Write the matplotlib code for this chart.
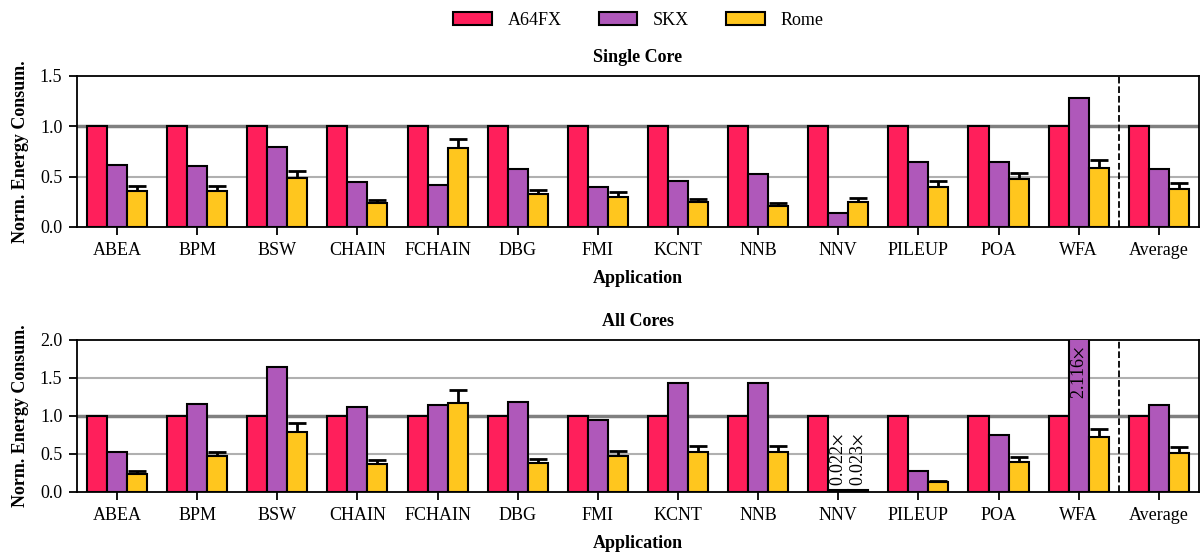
import numpy as np
import matplotlib
matplotlib.use('Agg')
import matplotlib.pyplot as plt

plt.rcParams['font.family'] = ['Liberation Serif', 'DejaVu Serif']
plt.rcParams['mathtext.fontset'] = 'stix'
plt.rcParams['font.size'] = 13
plt.rcParams['xtick.major.size'] = 6
plt.rcParams['ytick.major.size'] = 6
plt.rcParams['xtick.major.width'] = 1.3
plt.rcParams['ytick.major.width'] = 1.3
plt.rcParams['xtick.major.pad'] = 4.5
plt.rcParams['ytick.major.pad'] = 4.5

apps = ['ABEA', 'BPM', 'BSW', 'CHAIN', 'FCHAIN', 'DBG', 'FMI', 'KCNT',
        'NNB', 'NNV', 'PILEUP', 'POA', 'WFA', 'Average']
systems = ['A64FX', 'SKX', 'Rome']
colors = ['#FF1F5B', '#AF58BA', '#FFC61E']

# single core, normalized to A64FX
single_a64fx = [1.0] * 14
single_skx = [0.62, 0.61, 0.79, 0.445, 0.42, 0.58, 0.40, 0.46, 0.53, 0.135,
              0.65, 0.65, 1.28, 0.58]
single_rome = [0.36, 0.36, 0.49, 0.24, 0.78, 0.33, 0.30, 0.245, 0.205, 0.25,
               0.40, 0.475, 0.59, 0.38]
single_rome_err = [0.05, 0.05, 0.07, 0.03, 0.095, 0.04, 0.05, 0.035, 0.035, 0.04,
                   0.06, 0.065, 0.08, 0.06]

# all cores
all_a64fx = [1.0] * 14
all_skx = [0.527, 1.16, 1.64, 1.12, 1.15, 1.185, 0.945, 1.44, 1.44, 0.022,
           0.27, 0.755, 2.116, 1.145]
all_rome = [0.24, 0.47, 0.79, 0.374, 1.17, 0.38, 0.47, 0.53, 0.53, 0.023,
            0.136, 0.40, 0.73, 0.51]
all_rome_err = [0.035, 0.06, 0.115, 0.045, 0.17, 0.05, 0.07, 0.07, 0.07, 0.0,
                0.015, 0.06, 0.10, 0.08]

x = np.arange(len(apps))
w = 0.25

fig = plt.figure(figsize=(12.02, 5.52), dpi=100)
ax1 = fig.add_axes([0.064, 0.5888, 0.9334, 0.2736])
ax2 = fig.add_axes([0.064, 0.1087, 0.9334, 0.2754])


def draw(ax, vals, err, ymax, title):
    for i, v in enumerate(vals):
        ax.bar(x + (i - 1) * w, v, w, color=colors[i], edgecolor='black',
               linewidth=1.5, zorder=3, label=systems[i])
    ax.errorbar(x + w, vals[2], yerr=[np.zeros(len(err)), err], fmt='none',
                ecolor='black', elinewidth=2, capsize=6.8, capthick=2, zorder=2)
    for yv in np.arange(0.5, ymax, 0.5):
        if abs(yv - 1.0) < 1e-6:
            ax.axhline(yv, color='#808080', linewidth=2.5, zorder=1)
        else:
            ax.axhline(yv, color='#b0b0b0', linewidth=1.5, zorder=1)
    ax.axvline(12.5, color='black', linestyle='--', linewidth=1.3, zorder=4)
    ax.set_xlim(-0.5, 13.5)
    ax.set_ylim(0, ymax)
    ax.set_yticks(np.arange(0, ymax + 0.01, 0.5))
    ax.set_xticks(x)
    ax.set_xticklabels(apps)
    ax.set_xlabel('Application', fontweight='bold', labelpad=8)
    ax.set_ylabel('Norm. Energy Consum.', fontweight='bold', labelpad=8)
    ax.set_title(title, fontweight='bold', fontsize=13, pad=10)
    for s in ax.spines.values():
        s.set_linewidth(1.3)


draw(ax1, [single_a64fx, single_skx, single_rome], single_rome_err, 1.5, 'Single Core')
draw(ax2, [all_a64fx, all_skx, all_rome], all_rome_err, 2.0, 'All Cores')

# value labels for tiny / off-scale bars
ax2.text(9, all_skx[9] + 0.06, '%.3f$\\times$' % all_skx[9], rotation=90,
         ha='center', va='bottom', fontsize=13)
ax2.text(9 + w, all_rome[9] + 0.06, '%.3f$\\times$' % all_rome[9], rotation=90,
         ha='center', va='bottom', fontsize=13)
ax2.text(12, 1.92, '%.3f$\\times$' % all_skx[12], rotation=90,
         ha='center', va='top', fontsize=13)

fig.legend(handles=ax1.containers[:3], labels=systems, loc='upper center',
           ncol=3, frameon=False, bbox_to_anchor=(0.531, 1.008),
           handlelength=2.15, handleheight=0.75, handletextpad=0.85,
           columnspacing=2.05)

fig.savefig('out.png', dpi=100)
